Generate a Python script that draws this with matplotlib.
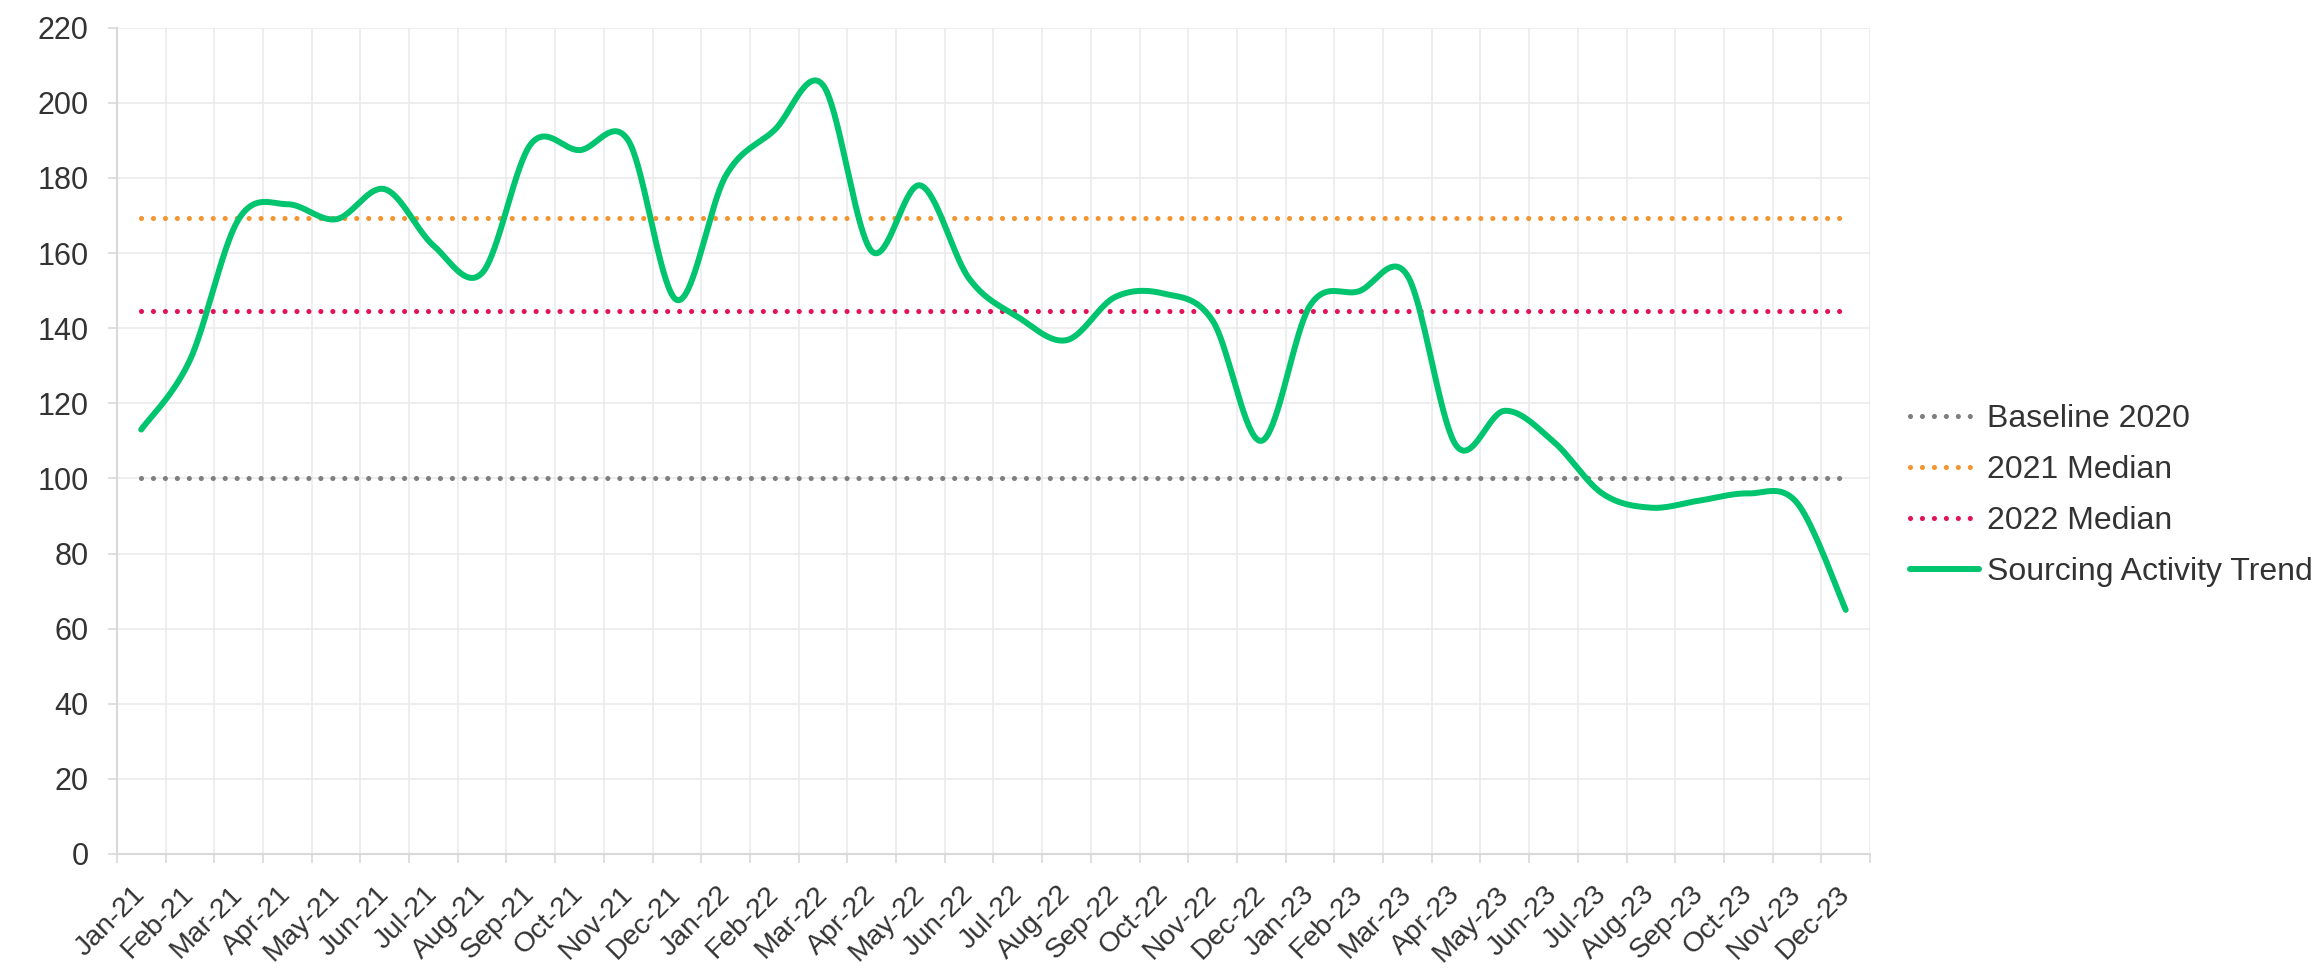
import numpy as np
import matplotlib.pyplot as plt

# 월별 라벨과 값
months = ["Jan-21", "Feb-21", "Mar-21", "Apr-21", "May-21", "Jun-21",
          "Jul-21", "Aug-21", "Sep-21", "Oct-21", "Nov-21", "Dec-21",
          "Jan-22", "Feb-22", "Mar-22", "Apr-22", "May-22", "Jun-22",
          "Jul-22", "Aug-22", "Sep-22", "Oct-22", "Nov-22", "Dec-22",
          "Jan-23", "Feb-23", "Mar-23", "Apr-23", "May-23", "Jun-23",
          "Jul-23", "Aug-23", "Sep-23", "Oct-23", "Nov-23", "Dec-23"]
activity = [113, 131.5, 169, 173, 169, 177, 162, 154.7, 189, 187.4, 190, 147.5,
            180.5, 192.7, 204.7, 160.5, 178, 153.2, 143, 136.8, 148.3, 149.2, 142, 110,
            146, 149.8, 154, 108.8, 118, 109.8, 96, 92.2, 94.1, 96, 93.5, 65]
baseline_2020 = 100
median_2021 = 169.2
median_2022 = 144.6

TEXT = "#333333"
GRID = "#ebebeb"
AXIS = "#d9d9d9"
FS = 22


def excel_smooth(xs, ys, n=40):
    """엑셀 '부드러운 선' 처럼 점들을 베지어 곡선으로 잇기"""
    xs = np.asarray(xs, float)
    ys = np.asarray(ys, float)
    N = len(xs)
    out_x, out_y = [], []
    t = np.linspace(0, 1, n)
    for k in range(N - 1):
        k0 = max(k - 1, 0)
        k3 = min(k + 2, N - 1)
        p1 = np.array([xs[k], ys[k]])
        p2 = np.array([xs[k + 1], ys[k + 1]])
        p0 = np.array([xs[k0], ys[k0]])
        p3 = np.array([xs[k3], ys[k3]])
        c1 = p1 + (p2 - p0) / 6
        c2 = p2 - (p3 - p1) / 6
        b = ((1 - t) ** 3)[:, None] * p1 + (3 * (1 - t) ** 2 * t)[:, None] * c1 \
            + (3 * (1 - t) * t ** 2)[:, None] * c2 + (t ** 3)[:, None] * p2
        if k > 0:
            b = b[1:]
        out_x.extend(b[:, 0])
        out_y.extend(b[:, 1])
    return np.array(out_x), np.array(out_y)


plt.rcParams['font.family'] = ['Liberation Sans', 'DejaVu Sans']
plt.rcParams['lines.scale_dashes'] = False
plt.rcParams['text.color'] = TEXT

fig = plt.figure(figsize=(23.19, 9.68), dpi=100)
ax = fig.add_axes([0.0504, 0.1178, 0.756, 0.8536])

x = np.arange(len(months))
dot = (0, (0.01, 8.6))

ax.plot(x, [baseline_2020] * len(x), color="#7f7f7f", lw=3.7, linestyle=dot,
        dash_capstyle='round', label="Baseline 2020")
ax.plot(x, [median_2021] * len(x), color="#f39530", lw=3.7, linestyle=dot,
        dash_capstyle='round', label="2021 Median")
ax.plot(x, [median_2022] * len(x), color="#e2125a", lw=3.7, linestyle=dot,
        dash_capstyle='round', label="2022 Median")
sx, sy = excel_smooth(x, activity)
ax.plot(sx, sy, color="#00c46e", lw=4.3, solid_capstyle='round',
        label="Sourcing Activity Trend")

# 축 설정
ax.set_xlim(-0.5, len(months) - 0.5)
ax.set_ylim(0, 220)
ax.set_yticks(np.arange(0, 221, 20))
ax.set_xticks(x)
ax.set_xticklabels(months, rotation=45, ha='right', va='center',
                   rotation_mode='anchor')
ax.set_xticks(np.arange(-0.5, len(months), 1), minor=True)

ax.tick_params(axis='x', which='major', length=0, pad=26, labelsize=20.5,
               labelcolor=TEXT)
ax.tick_params(axis='x', which='minor', length=6.8, width=1.2, color=AXIS,
               direction='out')
ax.tick_params(axis='y', length=6.8, width=1.2, color=AXIS, pad=13.5,
               labelsize=FS, labelcolor=TEXT)

ax.set_axisbelow(True)
ax.grid(which='minor', axis='x', color=GRID, lw=1.2)
ax.grid(which='major', axis='y', color=GRID, lw=1.2)
ax.grid(which='major', axis='x', visible=False)

for s in ['top', 'right']:
    ax.spines[s].set_visible(False)
for s in ['left', 'bottom']:
    ax.spines[s].set_color(AXIS)
    ax.spines[s].set_linewidth(1.5)

fig.legend(loc='center left', bbox_to_anchor=(0.8236, 0.488), frameon=False,
           fontsize=23, handlelength=2.15, handletextpad=0.25,
           labelspacing=0.65, borderpad=0, borderaxespad=0)

fig.savefig("out.png", dpi=100)
plt.close()
